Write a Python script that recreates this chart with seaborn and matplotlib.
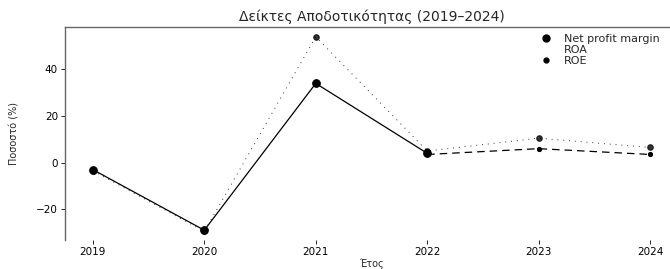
import numpy as np
import pandas as pd
import matplotlib
matplotlib.use("Agg")
import matplotlib.pyplot as plt
import seaborn as sns
from matplotlib.lines import Line2D

years = [2019, 2020, 2021, 2022, 2023, 2024]
net_profit_margin = [-3.0, -29.0, 34.0, 4.0, np.nan, np.nan]
roa = [np.nan, np.nan, np.nan, 3.5, 6.0, 3.5]
roe = [-3.5, -29.5, 54.0, 5.0, 10.5, 6.5]
series_names = ["Net profit margin", "ROA", "ROE"]

sns.set_style("white")
plt.rcParams['font.family'] = ['DejaVu Sans']

fig = plt.figure(figsize=(6.7, 2.69), dpi=100)
ax = fig.add_axes([65/670, 29/269, 613/670, 213/269])

df = pd.DataFrame({"Year": years, "NPM": net_profit_margin, "ROA": roa, "ROE": roe})

sns.lineplot(data=df, x="Year", y="NPM", ax=ax, color="black", linewidth=0.9,
             marker="o", markersize=5.5, markeredgecolor="black", linestyle="-")
sns.lineplot(data=df, x="Year", y="ROA", ax=ax, color="black", linewidth=0.9,
             marker="o", markersize=3, markeredgecolor="black", dashes=(6, 4))
sns.lineplot(data=df, x="Year", y="ROE", ax=ax, color="black", linewidth=0.7,
             marker="o", markersize=4, markeredgecolor="black", dashes=(1, 5), alpha=0.8)

ax.set_xlim(2018.75, 2024.25)
ax.set_ylim(-33.2, 58.2)
ax.set_xticks(years)
ax.set_xticklabels([str(y) for y in years])
ax.set_yticks([-20, 0, 20, 40])
ax.tick_params(axis="both", labelsize=7.5, length=3, width=0.6, direction="out",
               bottom=True, left=True, colors="black", pad=2)
for s in ["left", "top"]:
    ax.spines[s].set_color("#666666")
    ax.spines[s].set_linewidth(1.0)
ax.spines["bottom"].set_visible(False)
ax.spines["right"].set_visible(False)

ax.set_title("Δείκτες Αποδοτικότητας (2019–2024)", fontsize=10, pad=4)
ax.set_xlabel("Έτος", fontsize=7, labelpad=1)
ax.set_ylabel("Ποσοστό (%)", fontsize=7, labelpad=12)

handles = [
    Line2D([], [], color="black", marker="o", markersize=5, linestyle="None"),
    Line2D([], [], color="black", marker="o", markersize=0, linestyle="None"),
    Line2D([], [], color="black", marker="o", markersize=3.5, linestyle="None"),
]
ax.legend(handles, series_names, loc="upper left", bbox_to_anchor=(463/613, 1.0),
          frameon=False, fontsize=8, handletextpad=0.6, labelspacing=0.12,
          borderaxespad=0.2)

fig.savefig("out.png", dpi=100)
